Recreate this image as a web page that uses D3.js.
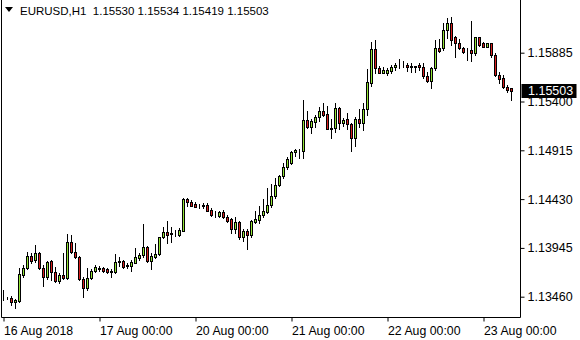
<!DOCTYPE html>
<html>
<head>
<meta charset="utf-8">
<script src="https://cdn.jsdelivr.net/npm/d3@7"></script>
<style>
  body { margin: 0; background: #fff; }
  svg { display: block; }
  text { font-family: "Liberation Sans", Arial, sans-serif; }
</style>
</head>
<body>
<svg width="580" height="340"></svg>
<script>
var svg = d3.select('svg');

// hourly bars, EURUSD H1, 16 Aug 2018 00:00 onwards
var opens = [
  1.13447,1.13447,1.13450,1.13407,1.13417,1.13676,1.13745,1.13865,1.13825,1.13894,
  1.13745,1.13656,1.13815,1.13706,1.13616,1.13676,1.13646,1.14004,1.13904,1.13855,
  1.13636,1.13546,1.13646,1.13715,1.13740,1.13745,1.13735,1.13715,1.13706,1.13805,
  1.13815,1.13765,1.13768,1.13798,1.13848,1.13874,1.13954,1.13815,1.13858,1.13884,
  1.14053,1.14103,1.14093,1.14083,1.14078,1.14116,1.14428,1.14406,1.14381,1.14364,
  1.14366,1.14371,1.14317,1.14272,1.14265,1.14305,1.14249,1.14229,1.14130,1.14205,
  1.14056,1.14116,1.14073,1.14199,1.14222,1.14269,1.14305,1.14371,1.14461,1.14570,
  1.14660,1.14749,1.14786,1.14895,1.14918,1.14911,1.15216,1.15150,1.15199,1.15243,
  1.15303,1.15276,1.15134,1.15134,1.15332,1.15189,1.15223,1.15179,1.15034,1.15223,
  1.15189,1.15323,1.15587,1.15919,1.15730,1.15686,1.15680,1.15706,1.15740,1.15773,
  1.15770,1.15763,1.15746,1.15748,1.15763,1.15740,1.15653,1.15607,1.15730,1.15929,
  1.15929,1.16111,1.16177,1.16044,1.15979,1.15929,1.15905,1.15912,1.15885,1.16038,
  1.15979,1.15945,1.15979,1.15862,1.15663,1.15631,1.15547,1.15530
];
var highs = [
  1.13527,1.13460,1.13467,1.13437,1.13745,1.13775,1.13904,1.13894,1.13974,1.13904,
  1.13775,1.13815,1.13825,1.13755,1.13696,1.13894,1.14083,1.14073,1.13994,1.13865,
  1.13656,1.13745,1.13735,1.13775,1.13765,1.13755,1.13745,1.13735,1.13884,1.13855,
  1.13825,1.13795,1.13825,1.13944,1.13897,1.14183,1.13964,1.13897,1.13984,1.14058,
  1.14156,1.14212,1.14156,1.14123,1.14143,1.14441,1.14441,1.14421,1.14398,1.14381,
  1.14388,1.14394,1.14339,1.14315,1.14315,1.14322,1.14269,1.14239,1.14249,1.14212,
  1.14130,1.14130,1.14222,1.14315,1.14361,1.14428,1.14537,1.14580,1.14640,1.14670,
  1.14789,1.14851,1.14911,1.14923,1.14931,1.15415,1.15309,1.15226,1.15266,1.15342,
  1.15382,1.15355,1.15223,1.15388,1.15348,1.15233,1.15283,1.15189,1.15243,1.15323,
  1.15382,1.15720,1.15994,1.16011,1.15753,1.15746,1.15730,1.15763,1.15786,1.15820,
  1.15806,1.15780,1.15780,1.15753,1.15780,1.15780,1.15696,1.15746,1.16011,1.16018,
  1.16177,1.16227,1.16237,1.16051,1.16018,1.15945,1.15929,1.16203,1.16041,1.16044,
  1.15994,1.15985,1.15982,1.15879,1.15696,1.15663,1.15564,1.15534
];
var lows = [
  1.13427,1.13437,1.13378,1.13348,1.13407,1.13656,1.13735,1.13795,1.13805,1.13740,
  1.13566,1.13636,1.13626,1.13606,1.13596,1.13636,1.13636,1.13894,1.13845,1.13626,
  1.13457,1.13527,1.13636,1.13706,1.13715,1.13706,1.13696,1.13656,1.13696,1.13765,
  1.13750,1.13750,1.13718,1.13790,1.13825,1.13855,1.13805,1.13735,1.13845,1.13874,
  1.14043,1.13994,1.14007,1.14063,1.14063,1.14108,1.14361,1.14361,1.14349,1.14345,
  1.14345,1.14312,1.14262,1.14255,1.14255,1.14239,1.14205,1.14090,1.14090,1.14030,
  1.14017,1.13931,1.14056,1.14190,1.14195,1.14255,1.14295,1.14352,1.14441,1.14560,
  1.14640,1.14729,1.14779,1.14858,1.14842,1.14839,1.15134,1.15090,1.15150,1.15209,
  1.15256,1.15122,1.15040,1.15100,1.15124,1.15160,1.15130,1.14911,1.14961,1.15144,
  1.15117,1.15266,1.15554,1.15680,1.15680,1.15680,1.15663,1.15686,1.15713,1.15730,
  1.15740,1.15706,1.15696,1.15696,1.15713,1.15631,1.15591,1.15531,1.15713,1.15895,
  1.15912,1.16028,1.15962,1.15845,1.15919,1.15879,1.15813,1.15806,1.15862,1.15952,
  1.15939,1.15939,1.15845,1.15653,1.15581,1.15531,1.15497,1.15419
];
var closes = [
  1.13450,1.13445,1.13410,1.13427,1.13686,1.13745,1.13865,1.13815,1.13894,1.13745,
  1.13656,1.13805,1.13706,1.13616,1.13676,1.13646,1.14004,1.13904,1.13855,1.13636,
  1.13546,1.13646,1.13715,1.13755,1.13745,1.13715,1.13706,1.13710,1.13805,1.13815,
  1.13758,1.13775,1.13805,1.13855,1.13874,1.13954,1.13815,1.13865,1.13884,1.14053,
  1.14106,1.14073,1.14088,1.14086,1.14123,1.14431,1.14404,1.14364,1.14355,1.14366,
  1.14369,1.14315,1.14272,1.14269,1.14299,1.14249,1.14215,1.14130,1.14199,1.14056,
  1.14116,1.14073,1.14215,1.14232,1.14272,1.14315,1.14371,1.14461,1.14570,1.14655,
  1.14749,1.14829,1.14901,1.14918,1.14915,1.15216,1.15150,1.15206,1.15243,1.15303,
  1.15266,1.15127,1.15131,1.15332,1.15189,1.15216,1.15173,1.15034,1.15223,1.15189,
  1.15323,1.15597,1.15919,1.15730,1.15686,1.15713,1.15713,1.15740,1.15763,1.15770,
  1.15773,1.15740,1.15748,1.15745,1.15740,1.15653,1.15607,1.15730,1.15929,1.15905,
  1.16111,1.16177,1.16011,1.15979,1.15929,1.15895,1.15902,1.15879,1.16038,1.15962,
  1.15945,1.15979,1.15862,1.15663,1.15621,1.15541,1.15514,1.15503
];

var priceTicks = [1.13460, 1.13945, 1.14430, 1.14915, 1.15400, 1.15885];
var timeTickIdx = [0, 24, 48, 72, 96, 120];
var timeTickLabels = ['16 Aug 2018', '17 Aug 00:00', '20 Aug 00:00', '21 Aug 00:00', '22 Aug 00:00', '23 Aug 00:00'];

var symbol = 'EURUSD,H1';
var lastPrice = 1.15503;

var bars = opens.map(function(o, i){
    return {i: i, o: o, h: highs[i], l: lows[i], c: closes[i]};
});

var frameRight = 520.5, frameBottom = 317.5;

var x = d3.scaleLinear().domain([0, 1]).range([3, 7]);   // 4px per bar
var y = d3.scaleLinear().domain([1.13460, 1.15885]).range([296.7, 52.7]);

// frame
svg.append('path')
    .attr('d', 'M1.5,0V' + frameBottom + 'H' + frameRight + 'V0')
    .attr('fill', 'none')
    .attr('stroke', '#000')
    .attr('stroke-width', 1);

// price axis
var yAxis = d3.axisRight(y)
    .tickValues(priceTicks)
    .tickSize(4)
    .tickPadding(3)
    .tickFormat(d3.format('.5f'));
var gy = svg.append('g')
    .attr('transform', 'translate(' + frameRight + ',0)')
    .call(yAxis);
gy.select('.domain').remove();
gy.selectAll('line').attr('stroke', '#000');
gy.selectAll('text')
    .attr('fill', '#000')
    .style('font-size', '12.5px')
    .style('font-family', '"Liberation Sans", Arial, sans-serif');

// time axis
var xAxis = d3.axisBottom(x)
    .tickValues(timeTickIdx)
    .tickSize(4)
    .tickFormat(function(d, k){ return timeTickLabels[k]; });
var gx = svg.append('g')
    .attr('transform', 'translate(0.5,' + frameBottom + ')')
    .call(xAxis);
gx.select('.domain').remove();
gx.selectAll('line').attr('stroke', '#000');
gx.selectAll('text')
    .attr('fill', '#000')
    .attr('text-anchor', 'start')
    .attr('x', 0)
    .attr('y', 9)
    .style('font-size', '12.3px')
    .style('font-family', '"Liberation Sans", Arial, sans-serif');

// candles
var g = svg.append('g');

g.selectAll('line.wick')
    .data(bars)
    .enter()
    .append('line')
    .attr('class', 'wick')
    .attr('x1', function(d){ return Math.round(x(d.i)) + 0.5; })
    .attr('x2', function(d){ return Math.round(x(d.i)) + 0.5; })
    .attr('y1', function(d){ return Math.round(y(d.h)); })
    .attr('y2', function(d){ return Math.round(y(d.l)) + 1; })
    .attr('stroke', '#000')
    .attr('stroke-width', 1);

g.selectAll('rect.body')
    .data(bars)
    .enter()
    .append('rect')
    .attr('class', 'body')
    .attr('x', function(d){ return Math.round(x(d.i)) - 0.5; })
    .attr('y', function(d){ return Math.round(y(Math.max(d.o, d.c))) + 0.5; })
    .attr('width', 2)
    .attr('height', function(d){
        return Math.max(0, Math.round(y(Math.min(d.o, d.c))) - Math.round(y(Math.max(d.o, d.c))));
    })
    .attr('fill', function(d){
        return d.c >= d.o ? '#92e436' : '#d81e1e';
    })
    .attr('stroke', '#000')
    .attr('stroke-width', 1);

// last price marker
var ly = Math.round(y(lastPrice));
svg.append('rect')
    .attr('x', frameRight + 1)
    .attr('y', ly - 7)
    .attr('width', 55)
    .attr('height', 14)
    .attr('fill', '#000');
svg.append('text')
    .attr('x', frameRight + 7.5)
    .attr('y', ly)
    .attr('dy', '0.35em')
    .attr('fill', '#fff')
    .style('font-size', '12.5px')
    .text(d3.format('.5f')(lastPrice));

// header
svg.append('path')
    .attr('d', 'M5,7H13L9,12Z')
    .attr('fill', '#000');
svg.append('text')
    .attr('x', 20)
    .attr('y', 15)
    .attr('fill', '#000')
    .style('font-size', '11.5px')
    .style('white-space', 'pre')
    .text(symbol + '  ' + [opens[opens.length - 1], highs[highs.length - 1], lows[lows.length - 1], closes[closes.length - 1]]
        .map(d3.format('.5f')).join(' '));
</script>
</body>
</html>
